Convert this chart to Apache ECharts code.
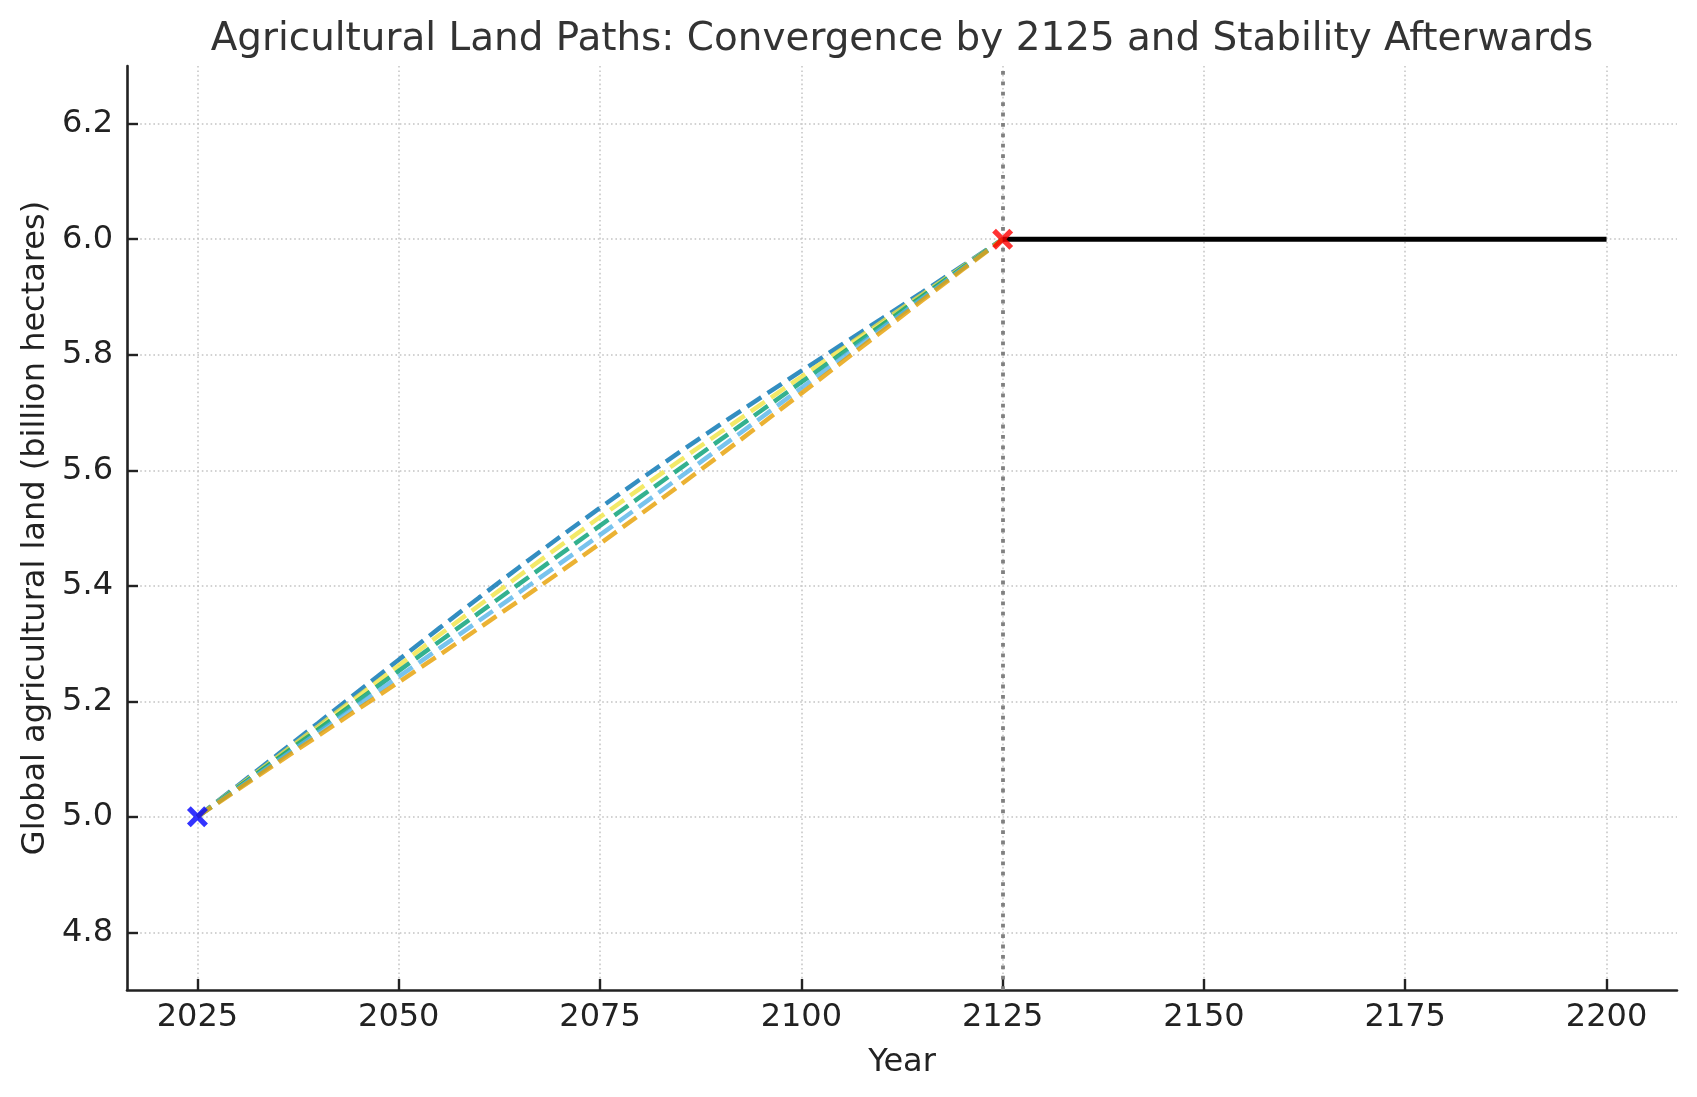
<!DOCTYPE html>
<html>
<head>
<meta charset="utf-8">
<script src="https://cdn.jsdelivr.net/npm/echarts@6/dist/echarts.min.js"></script>
<style>
  html, body { margin: 0; padding: 0; background: #ffffff; }
  #chart { width: 1697px; height: 1097px; }
</style>
</head>
<body>
<div id="chart"></div>
<script>
// ---- data ----
const years = [2025, 2030, 2035, 2040, 2045, 2050, 2055, 2060, 2065, 2070, 2075,
               2080, 2085, 2090, 2095, 2100, 2105, 2110, 2115, 2120, 2125];
const pathBlue    = [5.0000, 5.0538, 5.1080, 5.1625, 5.2173, 5.2719, 5.3262, 5.3798, 5.4326, 5.4844, 5.5350,
                     5.5844, 5.6326, 5.6798, 5.7262, 5.7719, 5.8173, 5.8625, 5.9080, 5.9538, 6.0000];
const pathYellow  = [5.0000, 5.0520, 5.1043, 5.1568, 5.2094, 5.2619, 5.3142, 5.3662, 5.4177, 5.4687, 5.5190,
                     5.5687, 5.6177, 5.6662, 5.7142, 5.7619, 5.8094, 5.8568, 5.9043, 5.9520, 6.0000];
const pathGreen   = [5.0000, 5.0504, 5.1009, 5.1514, 5.2020, 5.2525, 5.3030, 5.3534, 5.4037, 5.4539, 5.5040,
                     5.5539, 5.6037, 5.6534, 5.7030, 5.7525, 5.8020, 5.8514, 5.9009, 5.9504, 6.0000];
const pathSkyBlue = [5.0000, 5.0487, 5.0973, 5.1457, 5.1941, 5.2425, 5.2910, 5.3398, 5.3888, 5.4382, 5.4880,
                     5.5382, 5.5888, 5.6398, 5.6910, 5.7425, 5.7941, 5.8457, 5.8973, 5.9487, 6.0000];
const pathOrange  = [5.0000, 5.0471, 5.0939, 5.1403, 5.1867, 5.2331, 5.2798, 5.3270, 5.3748, 5.4235, 5.4730,
                     5.5235, 5.5748, 5.6270, 5.6798, 5.7331, 5.7867, 5.8403, 5.8939, 5.9471, 6.0000];
const stableYears   = [2125, 2200];
const stableValues  = [6.0, 6.0];
const startPoint    = [2025, 5.0];
const endPoint      = [2125, 6.0];
const convergenceYear = 2125;
const xTicks = [2025, 2050, 2075, 2100, 2125, 2150, 2175, 2200];
const yTicks = [4.8, 5.0, 5.2, 5.4, 5.6, 5.8, 6.0, 6.2];

const pathList = [
  { name: 'Path 1', values: pathBlue,    color: '#0072B2' },
  { name: 'Path 2', values: pathYellow,  color: '#F0E442' },
  { name: 'Path 3', values: pathGreen,   color: '#009E73' },
  { name: 'Path 4', values: pathSkyBlue, color: '#56B4E9' },
  { name: 'Path 5', values: pathOrange,  color: '#E69F00' }
];

const FONT = 'DejaVu Sans';
const xMark = 'path://M1.8,0 L5,3.2 L8.2,0 L10,1.8 L6.8,5 L10,8.2 L8.2,10 L5,6.8 L1.8,10 L0,8.2 L3.2,5 L0,1.8 Z';

const series = [];
pathList.forEach(function (p) {
  series.push({
    name: p.name,
    type: 'line',
    data: years.map(function (y, i) { return [y, p.values[i]]; }),
    showSymbol: false,
    symbol: 'none',
    lineStyle: { color: p.color, width: 4.5, opacity: 0.8, type: [17, 7.5], cap: 'butt' },
    z: 3
  });
});

series.push({
  name: 'Stable',
  type: 'line',
  data: stableYears.map(function (y, i) { return [y, stableValues[i]]; }),
  symbol: 'none',
  lineStyle: { color: '#000000', width: 5 },
  z: 4,
  markLine: {
    silent: true,
    symbol: ['none', 'none'],
    label: { show: false },
    lineStyle: { color: '#808080', width: 3.8, type: [3.8, 6.6], cap: 'butt' },
    data: [{ xAxis: convergenceYear }],
    z: 2
  }
});

series.push({
  name: 'Start',
  type: 'scatter',
  data: [startPoint],
  symbol: xMark,
  symbolSize: 21,
  itemStyle: { color: '#0000FF' },
  z: 6
});
series.push({
  name: 'End',
  type: 'scatter',
  data: [endPoint],
  symbol: xMark,
  symbolSize: 21,
  itemStyle: { color: '#FF0000' },
  z: 6
});

const gridLine = { show: true, lineStyle: { color: '#c4c4c4', width: 1.5, type: [1.6, 2.8] } };

const option = {
  animation: false,
  backgroundColor: '#ffffff',
  textStyle: { fontFamily: FONT },
  title: {
    text: 'Agricultural Land Paths: Convergence by 2125 and Stability Afterwards',
    left: 897,
    textAlign: 'center',
    top: 15,
    textStyle: { fontFamily: FONT, fontSize: 38.9, fontWeight: 'normal', color: '#333333' }
  },
  grid: { left: 127, right: 20, top: 66, bottom: 107, containLabel: false },
  xAxis: {
    type: 'value',
    min: 2016.25,
    max: 2208.75,
    name: 'Year',
    nameLocation: 'middle',
    nameGap: 57,
    nameTextStyle: { fontFamily: FONT, fontSize: 32, color: '#222222' },
    axisLine: { show: true, onZero: false, lineStyle: { color: '#222222', width: 2.6 } },
    axisTick: { show: true, inside: true, length: 11, lineStyle: { color: '#222222', width: 2.4 }, customValues: xTicks },
    axisLabel: { fontFamily: FONT, fontSize: 32, color: '#222222', margin: 12, customValues: xTicks, formatter: function (v) { return String(v); } },
    splitLine: gridLine
  },
  yAxis: {
    type: 'value',
    min: 4.7,
    max: 6.3,
    name: 'Global agricultural land (billion hectares)',
    nameLocation: 'middle',
    nameGap: 73,
    nameTextStyle: { fontFamily: FONT, fontSize: 32, color: '#222222' },
    axisLine: { show: true, onZero: false, lineStyle: { color: '#222222', width: 2.6 } },
    axisTick: { show: true, inside: true, length: 11, lineStyle: { color: '#222222', width: 2.4 }, customValues: yTicks },
    axisLabel: { fontFamily: FONT, fontSize: 32, color: '#222222', margin: 14, customValues: yTicks, formatter: function (v) { return v.toFixed(1); } },
    splitLine: gridLine
  },
  series: series
};

const chart = echarts.init(document.getElementById('chart'), null, { renderer: 'canvas' });
chart.setOption(option);
</script>
</body>
</html>
